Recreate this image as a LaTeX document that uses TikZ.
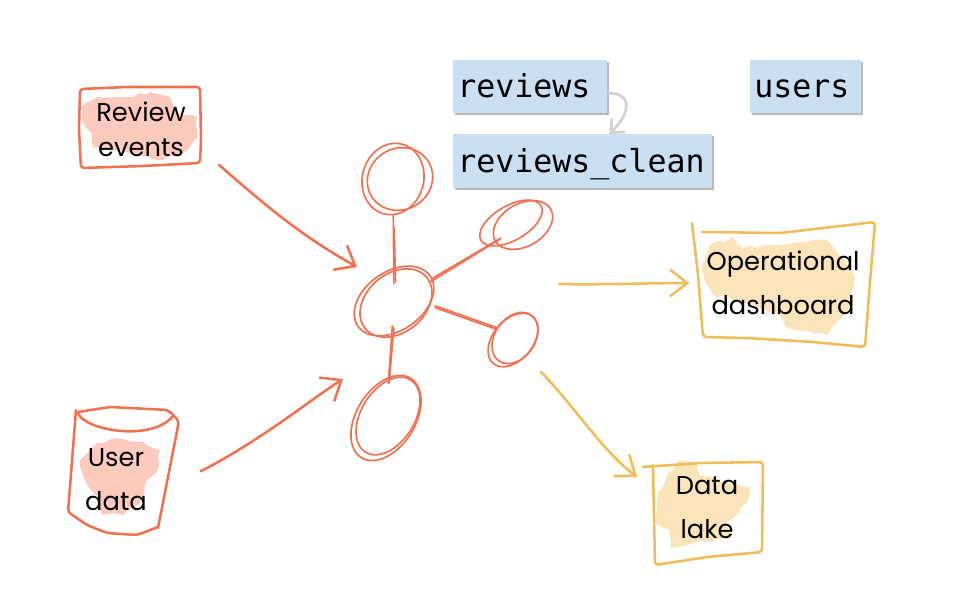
\documentclass[tikz,border=0pt]{standalone}
\usepackage{fontspec}
\usetikzlibrary{arrows.meta,shapes.geometric,shadows,decorations.pathmorphing}
\newfontfamily\handfont{Poppins}
\newfontfamily\tablefont{DejaVu Sans Mono}
\definecolor{coral}{HTML}{F2704F}
\definecolor{coralfill}{HTML}{FFCABE}
\definecolor{honey}{HTML}{F0BC55}
\definecolor{honeyfill}{HTML}{FBE3BA}
\definecolor{tableblue}{HTML}{C9DFF2}
\definecolor{loopgray}{HTML}{D0D0D0}

\begin{document}
\begin{tikzpicture}[x=0.75pt,y=-0.75pt,
    tablebox/.style={anchor=west,fill=tableblue,inner xsep=3pt,inner ysep=0pt,text height=20pt,text depth=2.8pt,minimum height=40pt,align=left,
        font=\tablefont\fontsize{23.7}{26}\selectfont,drop shadow={shadow xshift=1.5pt,shadow yshift=-1.5pt,opacity=0.55}},
    handtext/.style={align=center,inner sep=0pt,font=\handfont\fontsize{19.3}{26}\selectfont},
    ring/.style={ellipse,draw=coral,line width=1.25pt,inner sep=0pt},
    spoke/.style={draw=coral,line width=1.25pt,line cap=round},
    blob/.style={decorate,decoration={random steps,segment length=5pt,amplitude=1.2pt},line join=round},
    outline/.style={line width=1.9pt,rounded corners=2.5pt,line cap=round},
    feed/.style={draw=coral,line width=1.9pt,line cap=round,-{Straight Barb[length=13pt,width=21pt,line width=1.9pt]}},
    serve/.style={draw=honey,line width=1.9pt,line cap=round,-{Straight Barb[length=13pt,width=20pt,line width=1.9pt]}}]
    \useasboundingbox(0,0)rectangle(974,601);

    \node[tablebox,text width=109pt](reviews)at(453,86.5){reviews};
    \node[tablebox,text width=188pt](reviewsclean)at(453,161){reviews\_clean};
    \node[tablebox,text width=77pt](users)at(750,86.5){users};
    \draw[loopgray,line width=2pt,line cap=round,-{Straight Barb[length=8pt,width=14pt,line width=2pt]}](reviews.-5)..controls(632,92)and(632,112)..([xshift=20pt]reviewsclean.north);

    \fill[coralfill,blob](82,107)--(97,97)--(127,97)--(150,92)--(170,97)--(177,113)--(197,117)--(198,137)--(183,153)--(160,160)--(127,152)--(93,147)--(92,133)--(82,120)--cycle;
    \node[handtext,minimum width=91pt,minimum height=59pt](review)at(141,129){Review\\events};
    \draw[coral,outline](80,89)--(127,87)--(200,87)--(201,140)--(200,163)--(143,166)--(81,168)--(79,130)--cycle;

    \fill[coralfill,blob](80,460)--(97,443)--(117,438)--(143,442)--(160,450)--(158,470)--(147,480)--(140,503)--(123,515)--(102,515)--(97,497)--(85,480)--cycle;
    \node[handtext,minimum width=75pt,minimum height=84pt](user)at(116,480){User\\[7pt]data};
    \draw[coral,outline](76,410)--(68,512)--(87,525)--(107,533)--(137,535)--(158,527);
    \draw[coral,outline](158,528)--(179,421)--(168,410)--(110,407)--(78,412);
    \draw[coral,line width=1.9pt,line cap=round](78,413)..controls(84,430)and(150,442)..(172,417);

    \fill[honeyfill,blob](702,265)--(710,245)--(733,237)--(743,248)--(803,242)--(827,240)--(847,265)--(855,277)--(853,288)--(847,312)--(827,335)--(787,328)--(780,315)--(730,298)--(713,295)--(705,282)--cycle;
    \node[handtext,minimum width=128pt,minimum height=80pt](dashboard)at(783,283){Operational\\[7pt]dashboard};
    \draw[honey,outline](692,223)--(698,275)--(703,337)--(747,338)--(813,342)--(865,347)--(870,282)--(875,222)--(780,233)--(702,232);

    \fill[honeyfill,blob](680,460)--(697,463)--(700,475)--(750,487)--(747,503)--(727,522)--(730,537)--(670,548)--(670,530)--(655,522)--(658,493)--(668,473)--cycle;
    \node[handtext,minimum width=80pt,minimum height=74pt](lake)at(707,508){Data\\[7pt]lake};
    \draw[honey,outline](643,467)--(700,463)--(763,462)--(762,552)--(707,557)--(655,565)--(653,465);

    \node[ring,minimum width=66pt,minimum height=44pt,rotate=35](hub)at(394,301){};
    \node[ring,minimum width=60pt,minimum height=44pt,rotate=40](hubb)at(396,303){};
    \node[ring,minimum width=54pt,minimum height=46pt,rotate=75](top)at(393,179){};
    \node[ring,minimum width=50pt,minimum height=46pt,rotate=30](topb)at(400,179){};
    \node[ring,minimum width=52pt,minimum height=26pt,rotate=30](right)at(511,223){};
    \node[ring,minimum width=48pt,minimum height=32pt,rotate=30](rightb)at(523,225){};
    \node[ring,minimum width=46pt,minimum height=30pt,rotate=50](low)at(513,340){};
    \node[ring,minimum width=42pt,minimum height=30pt,rotate=55](lowb)at(515,338){};
    \node[ring,minimum width=70pt,minimum height=44pt,rotate=58](bottom)at(386,418){};
    \node[ring,minimum width=64pt,minimum height=40pt,rotate=58](bottomb)at(388,416){};

    \draw[spoke,shorten >=-12pt](top)--(hub);
    \draw[spoke,shorten <=-9pt,shorten >=9pt](hubb)--(top);
    \draw[spoke,shorten >=-5pt](hub)--(rightb);
    \draw[spoke,shorten >=-5pt](hubb)--(rightb);
    \draw[spoke,shorten >=4pt](low.93)--(hub.-40);
    \draw[spoke,shorten >=4pt](lowb.100)--(hubb.-45);
    \draw[spoke,shorten <=-7pt,shorten >=-5pt](hub)--(bottom);
    \draw[spoke,shorten <=-7pt,shorten >=-5pt](hubb)--(bottom);

    \coordinate(reviewin)at(357,267);
    \coordinate(userin)at(343,379);
    \coordinate(dashout)at(559,284);
    \coordinate(lakeout)at(541,372);
    \draw[feed,shorten <=17pt](review.-19)..controls(265,205)and(300,235)..(reviewin);
    \draw[feed,shorten <=29pt](user.-10)..controls(260,441)and(310,400)..(userin);
    \draw[serve,shorten >=6pt](dashout)..controls(600,285)and(650,283)..(dashboard.west);
    \draw[serve,shorten >=15pt](lakeout)..controls(576,408)and(603,452)..(lake.160);
\end{tikzpicture}
\end{document}
